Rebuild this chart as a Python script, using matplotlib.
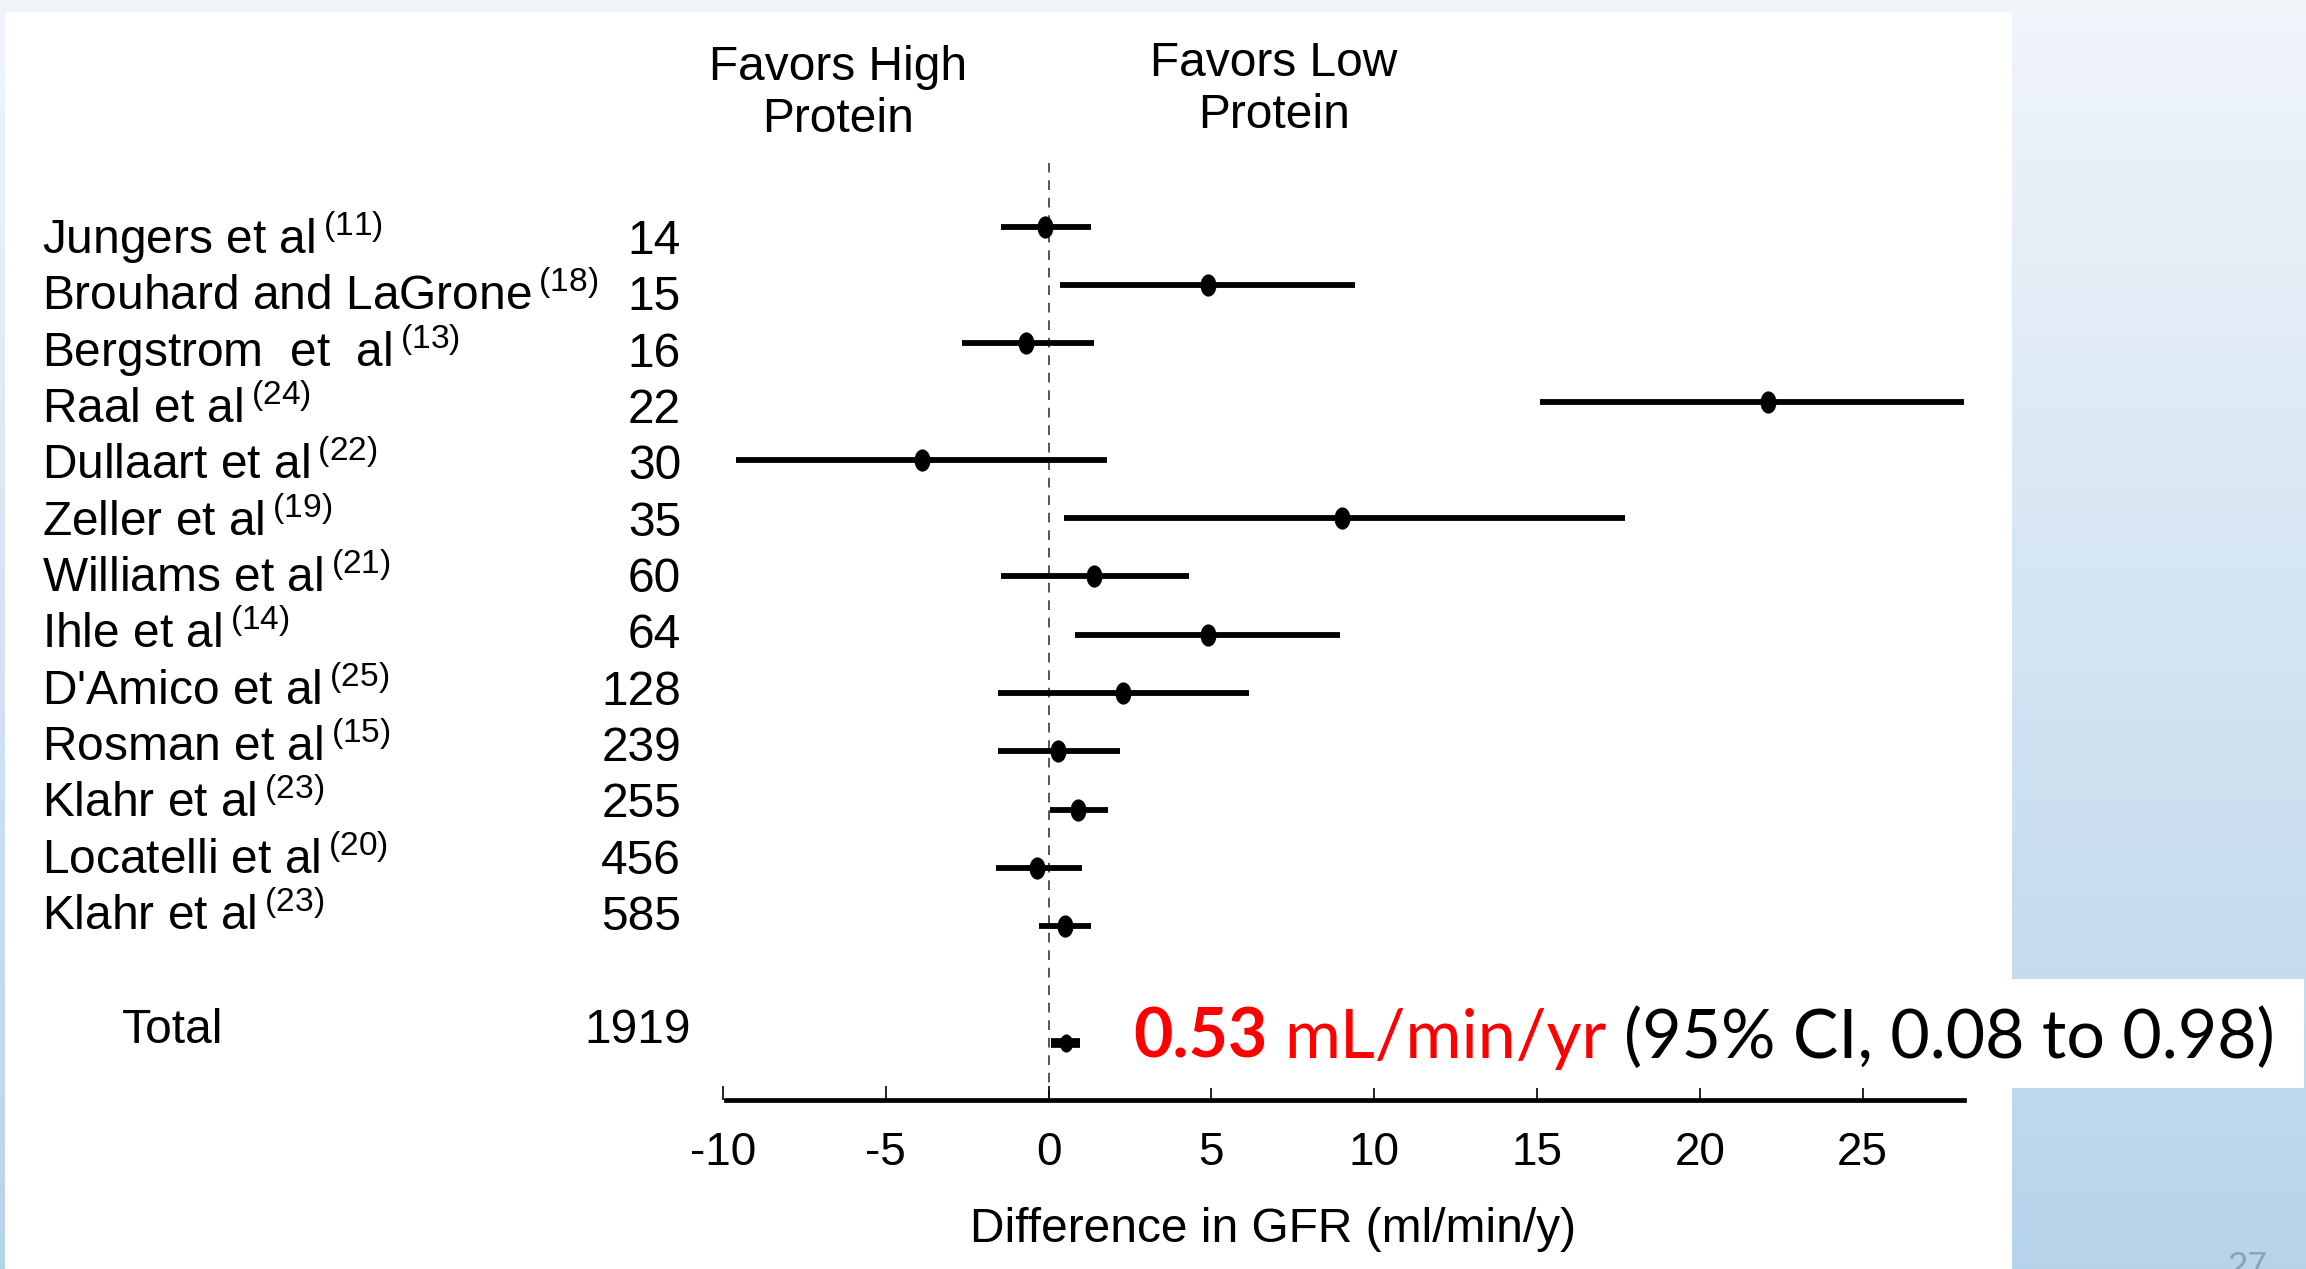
import numpy as np
import matplotlib.pyplot as plt
from matplotlib.patches import Rectangle
from matplotlib.path import Path
from matplotlib.transforms import blended_transform_factory

studies = ["Jungers et al", "Brouhard and LaGrone", "Bergstrom  et  al", "Raal et al",
           "Dullaart et al", "Zeller et al", "Williams et al", "Ihle et al",
           "D'Amico et al", "Rosman et al", "Klahr et al", "Locatelli et al", "Klahr et al"]
refs = ["11", "18", "13", "24", "22", "19", "21", "14", "25", "15", "23", "20", "23"]
n_pat = [14, 15, 16, 22, 30, 35, 60, 64, 128, 239, 255, 456, 585]
est = [-0.1, 4.9, -0.7, 22.1, -3.9, 9.0, 1.4, 4.9, 2.3, 0.3, 0.9, -0.35, 0.5]
ci_lo = [-1.45, 0.35, -2.65, 15.1, -9.6, 0.47, -1.45, 0.8, -1.55, -1.55, 0.03, -1.63, -0.29]
ci_hi = [1.3, 9.4, 1.4, 28.1, 1.78, 17.7, 4.3, 8.95, 6.17, 2.18, 1.81, 1.02, 1.29]
total_n = 1919
total_est = 0.53
total_lo = 0.08
total_hi = 0.98
xticks = [-10, -5, 0, 5, 10, 15, 20, 25]

plt.rcParams['font.family'] = 'Liberation Sans'
plt.rcParams['mathtext.fontset'] = 'custom'
plt.rcParams['mathtext.rm'] = 'Liberation Sans'
plt.rcParams['mathtext.it'] = 'Liberation Sans:italic'
plt.rcParams['mathtext.bf'] = 'Liberation Sans:bold'

W, H = 2306, 1269
fig = plt.figure(figsize=(W / 100, H / 100), dpi=100)

# slide background: blue gradient + white panel
bg = fig.add_axes([0, 0, 1, 1], zorder=-5)
g = np.linspace(0, 1, 256)[:, None, None]
top_c = np.array([0.94, 0.96, 0.98])
bot_c = np.array([0.72, 0.83, 0.92])
bg.imshow(top_c + g * (bot_c - top_c), aspect='auto', extent=[0, 1, 0, 1], origin='upper')
bg.add_patch(Rectangle((5 / W, 0), (2012 - 5) / W, 1 - 12 / H, facecolor='white', edgecolor='none'))
bg.set_xlim(0, 1)
bg.set_ylim(0, 1)
bg.axis('off')

ax = fig.add_axes([700 / W, 1 - 1100 / H, 1290 / W, 990 / H])
ax.patch.set_alpha(0)
ax.set_xlim(-10.706, 28.913)
ax.set_ylim(14.98, -2.0)

rows = np.arange(len(studies))
total_row = 14

# ellipse marker
circ = Path.unit_circle()
ell = Path(circ.vertices * [0.7, 1.0], circ.codes)

ax.axvline(0, ymin=0, ymax=0.946, color='#555555', lw=1.4, dashes=(5, 4), zorder=1)
ax.hlines(rows, ci_lo, ci_hi, color='black', lw=4.2, zorder=2)
ax.plot(est, rows, ls='none', marker=ell, markersize=15, color='black', zorder=3)
ax.hlines(total_row, total_lo, total_hi, color='black', lw=7, zorder=2)
ax.plot([total_est], [total_row], ls='none', marker=ell, markersize=12, color='black', zorder=3)

for s in ['top', 'left', 'right']:
    ax.spines[s].set_visible(False)
ax.spines['bottom'].set_bounds(-9.9, 28.1)
ax.spines['bottom'].set_linewidth(3.4)
ax.set_yticks([])
ax.set_xticks(xticks)
ax.set_xticklabels([str(t) for t in xticks])
ax.tick_params(axis='x', direction='in', length=10, width=1.2, labelsize=33, pad=22)

fs = 34.5
trans = blended_transform_factory(fig.transFigure, ax.transData)
for i in rows:
    yl = i * 0.966 + 0.47
    ax.text(42 / W, yl, studies[i] + r"$\,^{\mathrm{(" + refs[i] + ")}}$", transform=trans,
            ha='left', va='baseline', fontsize=fs)
    ax.text(681 / W, yl, str(n_pat[i]), transform=trans, ha='right', va='baseline', fontsize=fs)
ax.text(122 / W, total_row, "Total", transform=trans, ha='left', va='baseline', fontsize=fs)
ax.text(691 / W, total_row, str(total_n), transform=trans, ha='right', va='baseline', fontsize=fs)

fig.text(838 / W, 1 - 94 / H, "Favors High\nProtein", ha='center', va='center',
         fontsize=fs, linespacing=1.2)
fig.text(1274 / W, 1 - 90 / H, "Favors Low\nProtein", ha='center', va='center',
         fontsize=fs, linespacing=1.2)
fig.text(1273 / W, 1 - 1230 / H, "Difference in GFR (ml/min/y)", ha='center', va='center',
         fontsize=34.5)

# summary annotation
fig.add_artist(Rectangle((1110 / W, 1 - 1088 / H), (2304 - 1110) / W, 109 / H,
                         transform=fig.transFigure, facecolor='white', edgecolor='none', zorder=4))
r = fig.canvas.get_renderer()
yb = 1 - 1058 / H
afs = 49
t1 = fig.text(1133 / W, yb, "0.53", color='red', fontweight='bold', fontsize=afs,
              family='Lato', va='baseline', zorder=5)
x = t1.get_window_extent(r).x1 + 17
t2 = fig.text(x / W, yb, "mL/min/yr", color='red', fontsize=afs, family='Lato', va='baseline', zorder=5)
x = t2.get_window_extent(r).x1 + 17
t3 = fig.text(x / W, yb, "(95% CI, 0.08 to 0.98)", color='black', fontsize=afs, family='Lato',
              va='baseline', zorder=5)

fig.text(2247 / W, 0.0, "27", color='#8da2b8', fontsize=26, ha='center', va='center')

fig.savefig('out.png', dpi=100)
